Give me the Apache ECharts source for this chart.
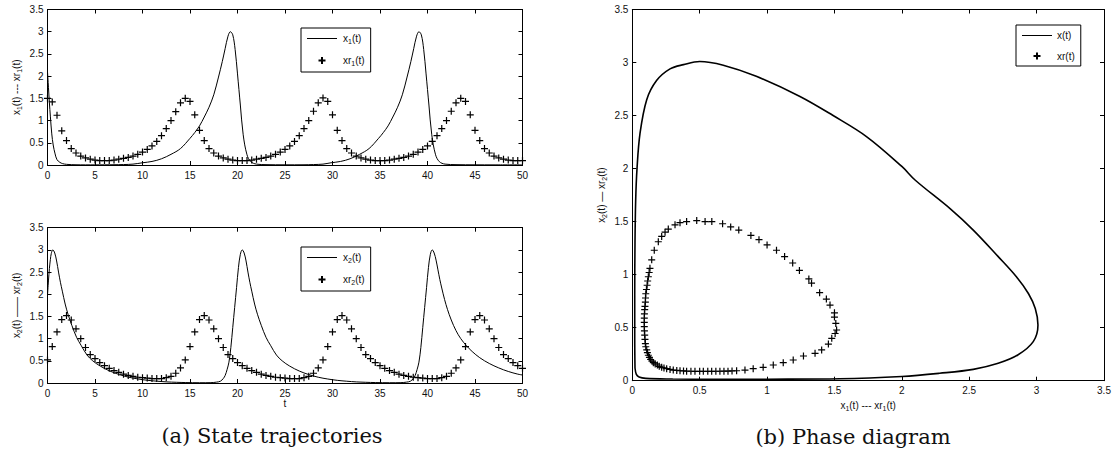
<!DOCTYPE html>
<html><head><meta charset="utf-8">
<script src="https://cdn.jsdelivr.net/npm/echarts@6/dist/echarts.min.js"></script>
<style>html,body{margin:0;padding:0;background:#fff}#c{width:1115px;height:458px}</style>
</head><body><div id="c"></div><script>
// ---------- data ----------
const tMarks = [0,0.5,1,1.5,2,2.5,3,3.5,4,4.5,5,5.5,6,6.5,7,7.5,8,8.5,9,9.5,10,10.5,11,11.5,12,12.5,13,13.5,14,14.5,15,15.5,16,16.5,17,17.5,18,18.5,19,19.5,20,20.5,21,21.5,22,22.5,23,23.5,24,24.5,25,25.5,26,26.5,27,27.5,28,28.5,29,29.5,30,30.5,31,31.5,32,32.5,33,33.5,34,34.5,35,35.5,36,36.5,37,37.5,38,38.5,39,39.5,40,40.5,41,41.5,42,42.5,43,43.5,44,44.5,45,45.5,46,46.5,47,47.5,48,48.5,49,49.5,50];
const xr1Vals = [1.50,1.42,1.12,0.77,0.55,0.37,0.27,0.20,0.16,0.13,0.11,0.10,0.10,0.10,0.11,0.13,0.15,0.17,0.20,0.24,0.29,0.35,0.43,0.53,0.66,0.82,1.00,1.20,1.40,
 1.50,
 1.43,1.13,0.78,0.55,0.37,0.27,0.20,0.16,0.13,0.11,0.10,0.10,0.10,0.11,0.13,0.15,0.17,0.20,0.24,0.29,0.35,0.43,0.53,0.66,0.82,1.00,1.21,1.40,
 1.51,
 1.43,1.13,0.78,0.55,0.37,0.27,0.20,0.16,0.13,0.11,0.10,0.10,0.10,0.11,0.13,0.15,0.17,0.20,0.24,0.29,0.35,0.43,0.53,0.66,0.82,1.00,1.21,1.40,
 1.50,
 1.43,1.13,0.78,0.55,0.37,0.27,0.20,0.16,0.13,0.11,0.10,0.10,0.10];
const xr2Vals = [0.52,0.82,1.15,1.43,
 1.52,1.42,1.22,1.00,0.80,0.64,0.55,0.46,0.39,0.33,0.28,0.24,0.20,0.17,0.15,0.13,0.12,0.11,0.10,0.10,0.10,0.12,0.15,0.22,0.34,0.52,0.82,1.15,1.43,
 1.52,1.42,1.22,1.00,0.80,0.64,0.55,0.46,0.39,0.33,0.28,0.24,0.20,0.17,0.15,0.13,0.12,0.11,0.10,0.10,0.10,0.12,0.15,0.22,0.34,0.52,0.82,1.15,1.43,
 1.52,1.42,1.22,1.00,0.80,0.64,0.55,0.46,0.39,0.33,0.28,0.24,0.20,0.17,0.15,0.13,0.12,0.11,0.10,0.10,0.10,0.12,0.15,0.22,0.34,0.52,0.82,1.15,1.43,
 1.52,1.42,1.22,1.00,0.80,0.64,0.55,0.46,0.39,0.33];
// solid trajectories: [t, value]
const x1Line = [[0,2.1],[0.1,1.75],[0.2,1.4],[0.3,1.1],[0.45,0.7],[0.6,0.45],[0.8,0.25],[1.0,0.12],[1.3,0.06],[1.6,0.03],[2,0.015],[2.5,0.008],[3,0.005],[4,0.003],[5,0.003],[6,0.004],[7,0.006],[8,0.01],[9,0.02],[10,0.05],[11,0.08],[12,0.14],[13,0.24],[14,0.37],[15,0.6],[15.5,0.73],[16,0.88],[16.5,1.08],[17,1.3],[17.5,1.58],[18,1.98],[18.4,2.33],[18.7,2.62],[19,2.9],[19.25,3.0],[19.5,2.93],[19.75,2.6],[20,2.05],[20.3,1.35],[20.6,0.68],[21,0.23],[21.4,0.075],[22,0.02],[23,0.008],[25,0.004],[27,0.005],[28,0.01],[29,0.02],[29.85,0.05],[30.85,0.08],[31.85,0.14],[32.85,0.24],[33.85,0.37],[34.85,0.6],[35.35,0.73],[35.85,0.88],[36.35,1.08],[36.85,1.3],[37.35,1.58],[37.85,1.98],[38.25,2.33],[38.55,2.62],[38.85,2.9],[39.1,3.0],[39.35,2.93],[39.6,2.6],[39.85,2.05],[40.15,1.35],[40.45,0.68],[40.85,0.23],[41.25,0.075],[41.85,0.02],[43,0.008],[45,0.004],[47,0.003],[50,0.003]];
const x2Line = [[0,1.98],[0.1,2.3],[0.2,2.58],[0.3,2.78],[0.4,2.92],[0.56,3.0],[0.76,2.93],[0.96,2.75],[1.16,2.5],[1.36,2.27],[1.56,2.07],[1.86,1.78],[2.16,1.55],[2.56,1.3],[3.06,1.03],[3.56,0.84],[4.16,0.63],[4.76,0.5],[5.56,0.38],[6.56,0.27],[7.56,0.19],[8.56,0.13],[9.56,0.09],[10.56,0.06],[11.56,0.04],[12.56,0.025],[13.56,0.016],[14.56,0.01],[16,0.006],[17.2,0.008],[17.8,0.02],[18.2,0.04],[18.5,0.1],[18.7,0.17],[18.9,0.3],[19.1,0.47],[19.3,0.8],[19.5,1.25],[19.7,1.7],[19.9,2.15],[20.1,2.6],[20.3,2.9],[20.5,3.0],[20.7,2.93],[20.9,2.75],[21.1,2.5],[21.3,2.27],[21.5,2.07],[21.8,1.78],[22.1,1.55],[22.5,1.3],[23,1.03],[23.5,0.84],[24.1,0.63],[24.7,0.5],[25.5,0.38],[26.5,0.27],[27.5,0.19],[28.5,0.13],[29.5,0.09],[30.5,0.06],[31.5,0.04],[32.5,0.025],[33.5,0.016],[34.5,0.01],[36,0.006],[37.2,0.008],[37.8,0.02],[38.2,0.04],[38.5,0.1],[38.7,0.17],[38.9,0.3],[39.1,0.47],[39.3,0.8],[39.5,1.25],[39.7,1.7],[39.9,2.15],[40.1,2.6],[40.3,2.9],[40.5,3.0],[40.7,2.93],[40.9,2.77],[41.1,2.55],[41.3,2.33],[41.5,2.14],[41.8,1.88],[42.1,1.66],[42.5,1.42],[43,1.18],[43.5,1.0],[44.1,0.84],[44.7,0.71],[45.5,0.57],[46.5,0.44],[47.5,0.34],[48.5,0.26],[49.5,0.2],[50,0.18]];
// phase diagram: [x1, x2]
const phaseLoop = [[0.02,0.12],[0.03,0.06],[0.05,0.035],[0.1,0.022],[0.3,0.016],[0.6,0.013],[1.0,0.014],[1.54,0.018],[2.0,0.04],[2.28,0.07],[2.53,0.107],[2.715,0.164],[2.86,0.242],[2.975,0.368],[3.01,0.525],[2.99,0.68],[2.94,0.82],[2.85,0.98],[2.715,1.17],[2.53,1.42],[2.36,1.62],[2.1,1.89],[2.0,2.02],[1.74,2.3],[1.49,2.5],[1.244,2.68],[0.92,2.87],[0.675,2.975],[0.5,3.01],[0.38,2.98],[0.28,2.94],[0.18,2.83],[0.107,2.65],[0.057,2.33],[0.035,2.0],[0.025,1.7],[0.02,1.3],[0.018,0.8],[0.018,0.4],[0.02,0.12]];
const phaseMarks = [[1.516,0.478],[1.51,0.54],[1.5,0.6],[1.5,0.64],[1.467,0.713],[1.44,0.77],[1.39,0.83],[1.33,0.92],[1.31,0.96],[1.24,1.04],[1.19,1.11],[1.13,1.17],[1.07,1.23],[1.0,1.28],[0.94,1.33],[0.88,1.37],[0.79,1.42],[0.73,1.45],[0.67,1.48],[0.59,1.5],[0.54,1.5],[0.478,1.51],[0.403,1.5],[0.354,1.49],[0.317,1.47],[0.267,1.43],[0.243,1.4],[0.218,1.36],[0.193,1.31],[0.163,1.23],[0.144,1.14],[0.131,1.06],[0.125,1.02],[0.119,0.98],[0.114,0.94],[0.11,0.9],[0.105,0.86],[0.1,0.82],[0.098,0.78],[0.097,0.74],[0.094,0.7],[0.092,0.67],[0.09,0.63],[0.089,0.59],[0.089,0.55],[0.089,0.51],[0.09,0.47],[0.092,0.43],[0.094,0.39],[0.097,0.35],[0.1,0.32],[0.107,0.29],[0.112,0.265],[0.119,0.24],[0.127,0.22],[0.136,0.2],[0.146,0.185],[0.156,0.17],[0.17,0.158],[0.186,0.148],[0.2,0.136],[0.218,0.126],[0.235,0.12],[0.255,0.113],[0.28,0.106],[0.304,0.1],[0.33,0.097],[0.354,0.094],[0.38,0.092],[0.403,0.09],[0.435,0.089],[0.465,0.088],[0.5,0.088],[0.527,0.088],[0.56,0.088],[0.589,0.088],[0.62,0.089],[0.65,0.089],[0.68,0.09],[0.71,0.09],[0.74,0.092],[0.774,0.094],[0.836,0.1],[0.897,0.113],[0.971,0.126],[1.046,0.148],[1.12,0.17],[1.194,0.195],[1.27,0.233],[1.356,0.258],[1.405,0.29],[1.455,0.345],[1.48,0.4],[1.505,0.445]];
const xTicksTime = {min:0, max:50, interval:5};
const yTicks = {min:0, max:3.5, interval:0.5};
const phaseTicks = {min:0, max:3.5, interval:0.5};

// ---------- build ----------
const SANS = 'Liberation Sans, Arial, Helvetica, sans-serif';
const pair = (ts, vs) => ts.map((t,i) => [t, vs[i]]).filter(p => p[1] !== undefined);
const plus = 'path://M0,5L10,5M5,0L5,10';
const lineIcon = 'path://M0,0M0,3.5L30,3.5L30,4.5L0,4.5ZM30,7';
const rich = {
  n:{fontFamily:SANS,fontSize:10,color:'#111'},
  s:{fontFamily:SANS,fontSize:7,color:'#111',padding:[6,0,0,0]}
};
const legendLabels = {
  'x1(t)':'{n|x}{s|1}{n|(t)}','xr1(t)':'{n|xr}{s|1}{n|(t)}',
  'x2(t)':'{n|x}{s|2}{n|(t)}','xr2(t)':'{n|xr}{s|2}{n|(t)}',
  'x(t)':'{n|x(t)}','xr(t)':'{n|xr(t)}'
};
function axis(kind, grid, tk, pos, showLabel, extra){
  return Object.assign({
    type:'value', gridIndex:grid, position:pos, min:tk.min, max:tk.max, interval:tk.interval,
    splitLine:{show:false},
    axisLine:{show:true,onZero:false,lineStyle:{color:'#000',width:1}},
    axisTick:{show:true,inside:true,length:4,lineStyle:{color:'#000',width:1}},
    axisLabel:{show:showLabel,color:'#111',fontFamily:SANS,fontSize:10,margin:kind==='x'?5:4}
  }, extra||{});
}
const grids = [
  {left:47.5, top:9.5, width:475, height:155.5},
  {left:47.5, top:227.7, width:475, height:155.3},
  {left:632.3, top:9.5, width:471.7, height:371.2}
];
const xAxes = [
  axis('x',0,xTicksTime,'bottom',true),
  axis('x',0,xTicksTime,'top',false),
  axis('x',1,xTicksTime,'bottom',true,{name:'{n|t}',nameLocation:'middle',nameGap:15,nameTextStyle:{rich:rich}}),
  axis('x',1,xTicksTime,'top',false),
  axis('x',2,phaseTicks,'bottom',true,{name:'{n|x}{s|1}{n|(t) --- xr}{s|1}{n|(t)}',nameLocation:'middle',nameGap:10,nameTextStyle:{rich:rich}}),
  axis('x',2,phaseTicks,'top',false)
];
const yAxes = [
  axis('y',0,yTicks,'left',true,{name:'{n|x}{s|1}{n|(t) --- xr}{s|1}{n|(t)}',nameLocation:'middle',nameGap:25,nameRotate:90,nameTextStyle:{rich:rich}}),
  axis('y',0,yTicks,'right',false),
  axis('y',1,yTicks,'left',true,{name:'{n|x}{s|2}{n|(t) —— xr}{s|2}{n|(t)}',nameLocation:'middle',nameGap:25,nameRotate:90,nameTextStyle:{rich:rich}}),
  axis('y',1,yTicks,'right',false),
  axis('y',2,phaseTicks,'left',true,{name:'{n|x}{s|2}{n|(t) — xr}{s|2}{n|(t)}',nameLocation:'middle',nameGap:24,nameRotate:90,nameTextStyle:{rich:rich}}),
  axis('y',2,phaseTicks,'right',false)
];
function lineS(name, data, xi, yi, w){
  return {type:'line', name, data, xAxisIndex:xi, yAxisIndex:yi, symbol:'none', smooth:0.35,
    lineStyle:{color:'#000',width:w||1}, itemStyle:{color:'#000'}, animation:false, z:3};
}
function markS(name, data, xi, yi){
  return {type:'scatter', name, data, xAxisIndex:xi, yAxisIndex:yi, symbol:plus, symbolSize:7,
    itemStyle:{color:'#000',borderColor:'#000',borderWidth:1.2,opacity:1}, animation:false, z:2};
}
function legend(names, left, top, w){
  return {data:[{name:names[0], icon:lineIcon}, {name:names[1]}], orient:'vertical', left, top, itemWidth:w, itemHeight:7, itemGap:11,
    padding:[5,6,5,6], borderColor:'#000', borderWidth:1, backgroundColor:'#fff',
    selectedMode:false, formatter:n=>legendLabels[n], textStyle:{rich:rich}};
}
const option = {
  backgroundColor:'#fff',
  animation:false,
  grid:grids,
  xAxis:xAxes,
  yAxis:yAxes,
  legend:[legend(['x1(t)','xr1(t)'],301,28,32), legend(['x2(t)','xr2(t)'],301,247,32), legend(['x(t)','xr(t)'],1016,25,30)],
  series:[
    lineS('x1(t)', x1Line, 0, 0),
    markS('xr1(t)', pair(tMarks, xr1Vals), 0, 0),
    lineS('x2(t)', x2Line, 2, 2),
    markS('xr2(t)', pair(tMarks, xr2Vals), 2, 2),
    lineS('x(t)', phaseLoop, 4, 4, 1.6),
    markS('xr(t)', phaseMarks, 4, 4)
  ],
  graphic:[
    {type:'text', x:272, y:436, style:{text:'(a) State trajectories', fontFamily:'DejaVu Serif, serif', fontSize:21, fill:'#111', textAlign:'center', textVerticalAlign:'middle'}},
    {type:'text', x:853, y:437, style:{text:'(b) Phase diagram', fontFamily:'DejaVu Serif, serif', fontSize:21, fill:'#111', textAlign:'center', textVerticalAlign:'middle'}}
  ]
};
const chart = echarts.init(document.getElementById('c'), null, {renderer:'svg', width:1115, height:458});
chart.setOption(option);
</script></body></html>
